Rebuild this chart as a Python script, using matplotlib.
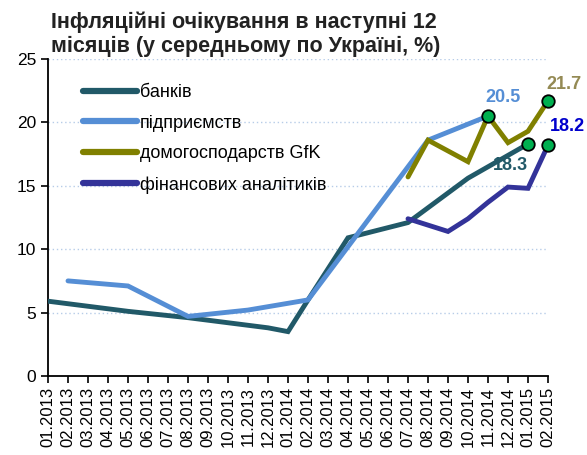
import matplotlib
matplotlib.use("Agg")
import matplotlib.pyplot as plt
import numpy as np

plt.rcParams["font.family"] = ["Liberation Sans", "DejaVu Sans"]

months = ["01.2013", "02.2013", "03.2013", "04.2013", "05.2013", "06.2013",
          "07.2013", "08.2013", "09.2013", "10.2013", "11.2013", "12.2013",
          "01.2014", "02.2014", "03.2014", "04.2014", "05.2014", "06.2014",
          "07.2014", "08.2014", "09.2014", "10.2014", "11.2014", "12.2014",
          "01.2015", "02.2015"]

# series: months where a value exists, and the values
banks_m = ["01.2013", "05.2013", "08.2013", "12.2013", "01.2014", "02.2014",
           "04.2014", "07.2014", "10.2014", "01.2015"]
banks_v = [5.9, 5.1, 4.6, 3.8, 3.5, 6.0, 10.9, 12.1, 15.6, 18.3]

firms_m = ["02.2013", "05.2013", "08.2013", "11.2013", "02.2014", "05.2014",
           "08.2014", "11.2014"]
firms_v = [7.5, 7.1, 4.7, 5.2, 6.0, 12.3, 18.6, 20.5]

hh_m = ["07.2014", "08.2014", "10.2014", "11.2014", "12.2014", "01.2015", "02.2015"]
hh_v = [15.7, 18.6, 16.9, 20.5, 18.4, 19.3, 21.7]

fin_m = ["07.2014", "09.2014", "10.2014", "11.2014", "12.2014", "01.2015", "02.2015"]
fin_v = [12.4, 11.4, 12.4, 13.7, 14.9, 14.8, 18.2]

names = ["банків", "підприємств", "домогосподарств GfK", "фінансових аналітиків"]
colors = ["#215968", "#558ED5", "#808000", "#333399"]

idx = {m: i for i, m in enumerate(months)}

fig = plt.figure(figsize=(5.87, 4.55), dpi=100)
ax = fig.add_axes([48 / 587, 79 / 455, 500 / 587, 317 / 455])

series = [(banks_m, banks_v), (firms_m, firms_v), (hh_m, hh_v), (fin_m, fin_v)]
for (ms, vs), name, col in zip(series, names, colors):
    xs = [idx[m] for m in ms]
    ax.plot(xs, vs, color=col, lw=3.5, label=name, solid_capstyle="round",
            solid_joinstyle="miter", zorder=3)

# highlighted end points
marks = [(idx["11.2014"], 20.5), (idx["02.2015"], 21.7),
         (idx["01.2015"], 18.3), (idx["02.2015"], 18.2)]
for x, y in marks:
    ax.plot(x, y, "o", ms=9, mfc="#00B050", mec="black", mew=1.3, zorder=5,
            clip_on=False)

lab = dict(fontsize=13, fontweight="bold", ha="center", va="center",
           clip_on=False)
ax.text(idx["11.2014"] + 0.75, 22.0, "20.5", color="#558ED5", **lab)
ax.text(idx["02.2015"] + 0.8, 23.0, "21.7", color="#948A54", **lab)
ax.text(idx["02.2015"] + 0.98, 19.7, "18.2", color="#0000CC", **lab)
ax.text(idx["01.2015"] - 0.9, 16.6, "18.3", color="#215968", **lab)

ax.set_xlim(0, len(months) - 1)
ax.set_ylim(0, 25)
ax.set_yticks(np.arange(0, 26, 5))
ax.set_xticks(range(len(months)))
ax.set_xticklabels(months, rotation=90, fontsize=12)
ax.tick_params(axis="y", labelsize=12.5, length=5, width=1.2, direction="out")
ax.tick_params(axis="x", length=5, width=1.2, direction="out", pad=3)
for s in ["top", "right"]:
    ax.spines[s].set_visible(False)
for s in ["left", "bottom"]:
    ax.spines[s].set_linewidth(1.3)
ax.yaxis.grid(True, color="#B7CCE8", linestyle=(0, (1, 2)), linewidth=1)
ax.set_axisbelow(True)

leg = fig.legend(*ax.get_legend_handles_labels(), loc="upper left",
                 bbox_to_anchor=(83 / 587, 1 - 84 / 455), frameon=False,
                 fontsize=13, handlelength=3.0, handletextpad=0.15,
                 labelspacing=0.76, borderaxespad=0, borderpad=0)
for h in leg.get_lines():
    h.set_linewidth(4.5)

fig.text(51 / 587, 1 - 22 / 455, "Інфляційні очікування в наступні 12",
         fontsize=15.5, fontweight="bold", ha="left", va="center",
         color="#222222")
fig.text(51 / 587, 1 - 46 / 455, "місяців (у середньому по Україні, %)",
         fontsize=15.5, fontweight="bold", ha="left", va="center",
         color="#222222")

fig.savefig("out.png", dpi=100)
